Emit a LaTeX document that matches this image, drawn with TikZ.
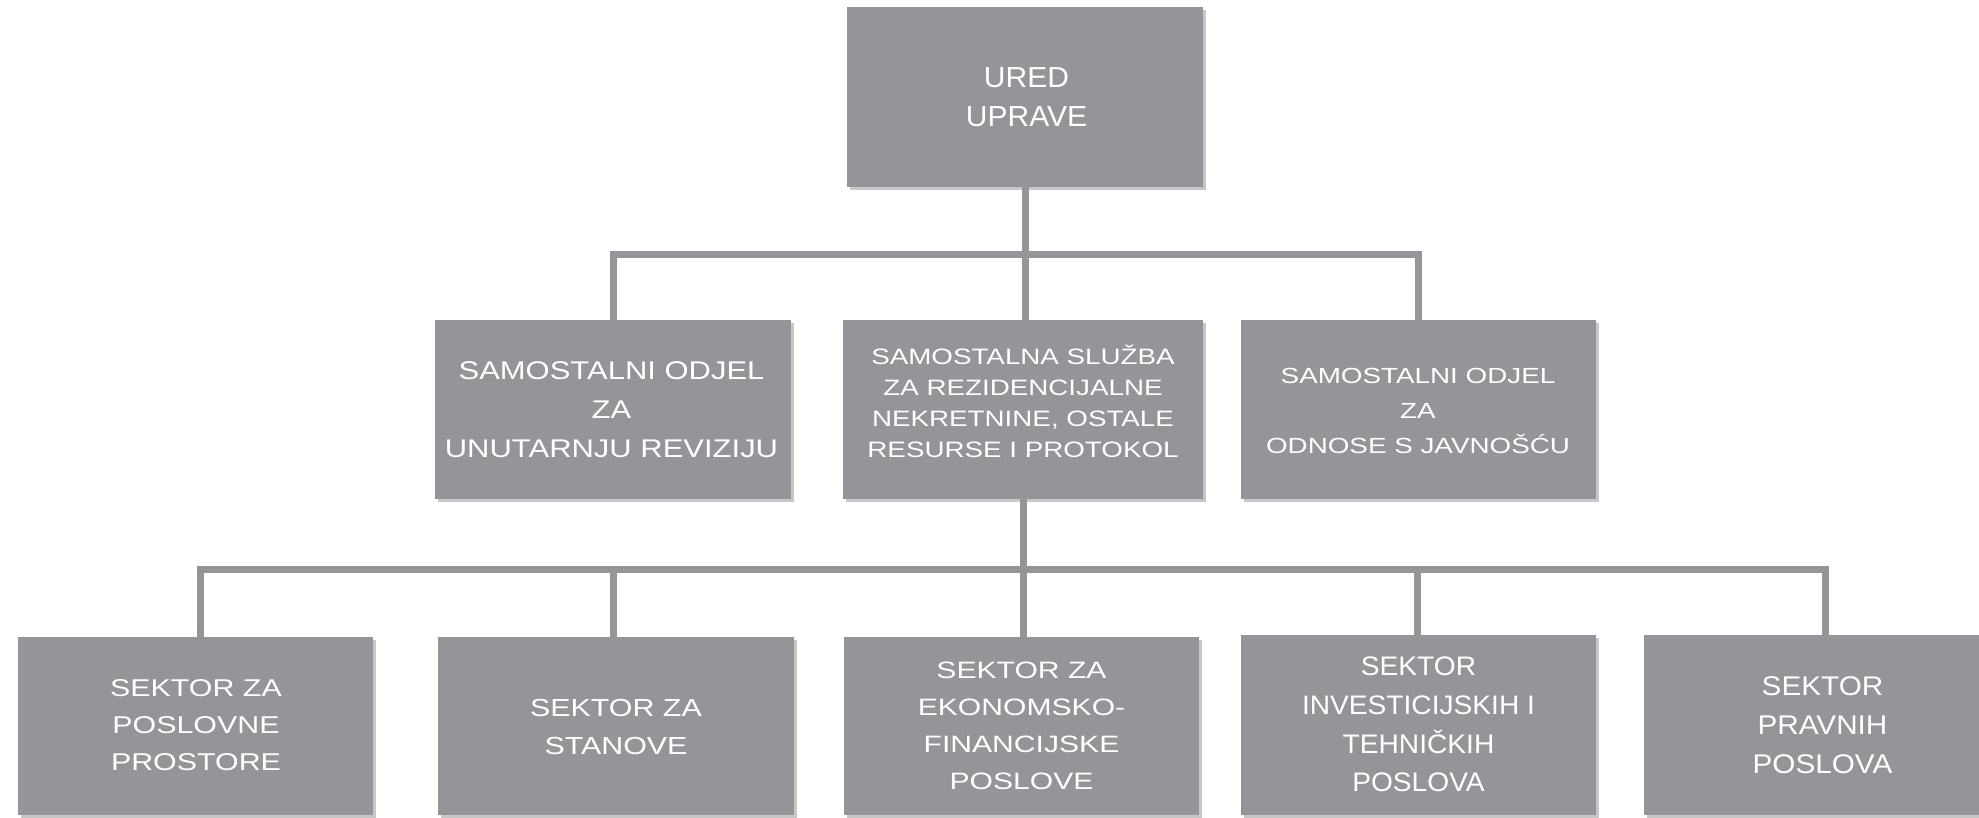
\documentclass[tikz,border=0pt]{standalone}
\usepackage{fontspec}
\setmainfont{Liberation Sans}
\usepackage{graphicx}
\usetikzlibrary{shadows}
\definecolor{boxgray}{RGB}{147,149,152}
\definecolor{shadowgray}{RGB}{198,199,201}
\newcommand{\bt}[4]{\scalebox{#3}[1]{\fontsize{#1}{#2}\selectfont\begin{tabular}{@{}c@{}}#4\end{tabular}}}
\begin{document}
\begin{tikzpicture}[x=1pt,y=-1pt,
  orgbox/.style={rectangle, fill=boxgray, inner sep=0pt, minimum width=356pt, minimum height=180pt,
    drop shadow={shadow xshift=3pt, shadow yshift=-3pt, fill=shadowgray, opacity=1}},
  boxtext/.style={inner sep=0pt, text=white},
  conn/.style={draw=boxgray, line width=7pt}]
\useasboundingbox (0,0) rectangle (1979,817);
\fill[white] (0,0) rectangle (1979,817);
\clip (0,0) rectangle (1979,817);

% boxes
\node[orgbox] (top) at (1025,97) {};
\node[orgbox, minimum height=179pt] (m1) at (613,409.5) {};
\node[orgbox, minimum width=360pt, minimum height=179pt] (m2) at (1023,409.5) {};
\node[orgbox, minimum width=355pt, minimum height=179pt] (m3) at (1418.5,409.5) {};
\node[orgbox, minimum width=355pt, minimum height=178pt] (b1) at (195.5,726) {};
\node[orgbox, minimum height=178pt] (b2) at (616,726) {};
\node[orgbox, minimum width=355pt, minimum height=178pt] (b3) at (1021.5,726) {};
\node[orgbox, minimum width=355pt] (b4) at (1418.5,725) {};
\node[orgbox, minimum width=355pt] (b5) at (1821.5,725) {};

% connectors
\coordinate (j1) at (1027,254);
\coordinate (j2) at (1022,569);
\draw[conn] (m1.north) |- (j1) -| (m3.north);
\draw[conn] (top.south) -- (top.south |- m2.north);
\draw[conn] ([xshift=5pt]b1.north) |- (j2) -| ([xshift=4pt]b5.north);
\draw[conn] ([xshift=-3pt]b2.north) -- ([xshift=-3pt]b2.north |- j2);
\draw[conn] (m2.south) -- (m2.south |- b3.north);
\draw[conn] ([xshift=-1pt]b4.north) -- ([xshift=-1pt]b4.north |- j2);

% texts
\node[boxtext] (topt) at (1026.5,99.5) {\bt{29}{39}{1.035}{URED\\UPRAVE}};
\node[boxtext] (m1t) at (611.5,411) {\bt{25.6}{39}{1.21}{SAMOSTALNI ODJEL\\ZA\\UNUTARNJU REVIZIJU}};
\node[boxtext] (m2t) at (1023,404.3) {\bt{22.3}{31}{1.245}{SAMOSTALNA SLUŽBA\\ZA REZIDENCIJALNE\\NEKRETNINE, OSTALE\\RESURSE I PROTOKOL}};
\node[boxtext] (m3t) at (1418,411) {\bt{21.9}{35}{1.27}{SAMOSTALNI ODJEL\\ZA\\ODNOSE S JAVNOŠĆU}};
\node[boxtext] (b1t) at (196,726.5) {\bt{24.3}{37}{1.25}{SEKTOR ZA\\POSLOVNE\\PROSTORE}};
\node[boxtext] (b2t) at (616,727.6) {\bt{24.7}{38.5}{1.23}{SEKTOR ZA\\STANOVE}};
\node[boxtext] (b3t) at (1021.5,727) {\bt{23.7}{37}{1.27}{SEKTOR ZA\\EKONOMSKO-\\FINANCIJSKE\\POSLOVE}};
\node[boxtext] (b4t) at (1418.5,726) {\bt{26.8}{38.7}{1.05}{SEKTOR\\INVESTICIJSKIH I\\TEHNIČKIH\\POSLOVA}};
\node[boxtext] (b5t) at (1822.5,727) {\bt{27}{39}{1.1}{SEKTOR\\PRAVNIH\\POSLOVA}};
\end{tikzpicture}
\end{document}
